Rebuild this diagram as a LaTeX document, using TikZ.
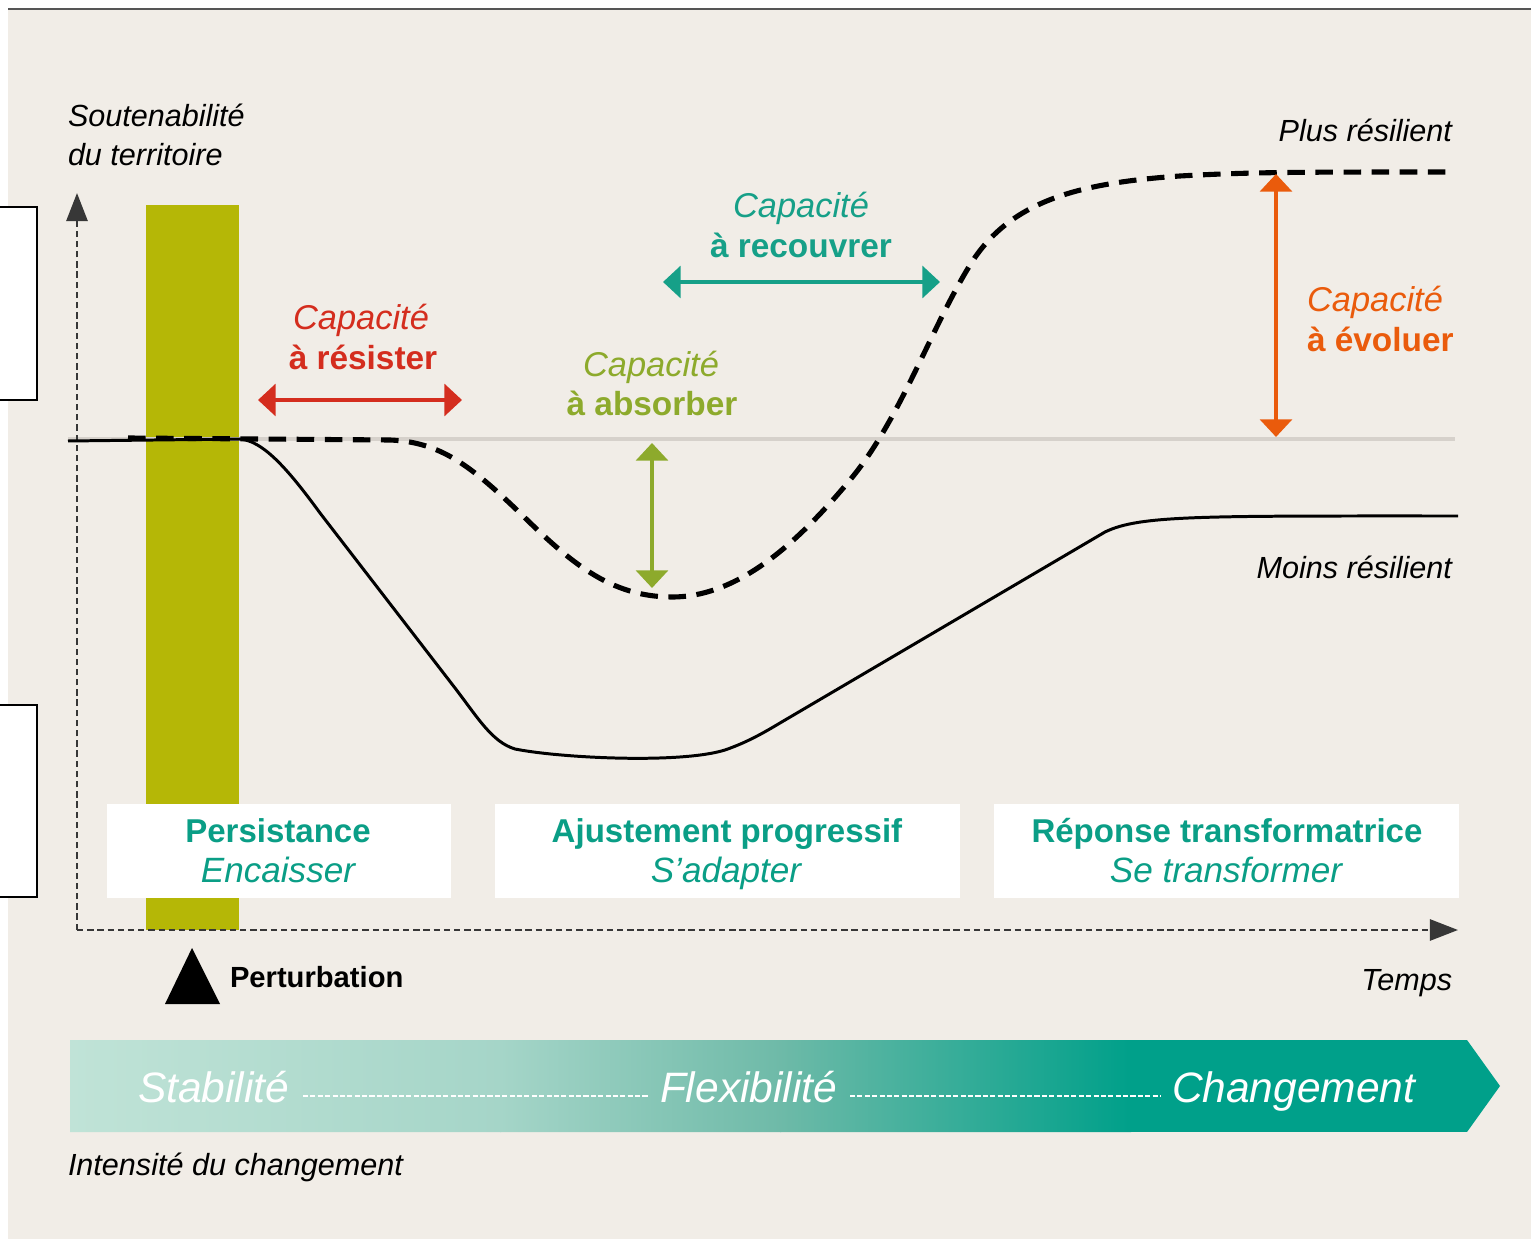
\documentclass[tikz,border=0pt]{standalone}
\usepackage{fontspec}
\setmainfont{Liberation Sans}
\usetikzlibrary{arrows.meta}
\definecolor{bgc}{RGB}{241,237,231}
\definecolor{topline}{RGB}{85,85,85}
\definecolor{barc}{RGB}{181,183,6}
\definecolor{basec}{RGB}{214,209,203}
\definecolor{axisc}{RGB}{55,55,55}
\definecolor{redc}{RGB}{212,45,30}
\definecolor{tealc}{RGB}{22,160,136}
\definecolor{olivec}{RGB}{141,170,44}
\definecolor{orangec}{RGB}{234,91,12}
\definecolor{phasec}{RGB}{10,158,134}
\definecolor{bannerL}{RGB}{192,227,215}
\definecolor{bannerM}{RGB}{165,213,200}
\definecolor{bannerN}{RGB}{110,186,168}
\definecolor{bannerR}{RGB}{0,160,138}
\tikzset{
  txt/.style={inner sep=0pt, outer sep=0pt},
  itfont/.style={font=\fontsize{19.6}{23}\selectfont\itshape},
  bdfont/.style={font=\fontsize{19}{23}\selectfont\bfseries},
  phbold/.style={font=\fontsize{18.8}{23}\selectfont\bfseries, text=phasec},
  phit/.style={font=\fontsize{20}{24}\selectfont\itshape, text=phasec},
  axlabel/.style={font=\fontsize{17.4}{21}\selectfont\itshape, text=black},
  bannerfont/.style={font=\fontsize{24.2}{28}\selectfont\itshape, text=white},
  caparrow/.style={line width=2.2pt, {Triangle[length=10pt,width=18pt]}-{Triangle[length=10pt,width=18pt]}},
  axisline/.style={draw=axisc, line width=1.5pt, dash pattern=on 3.6pt off 2.2pt, -{Triangle[length=16pt,width=12pt]}},
  solidcurve/.style={draw=black, line width=1.7pt},
  dashcurve/.style={draw=black, line width=2.9pt, dash pattern=on 10pt off 6pt},
  phasebox/.style={fill=white, draw=none},
  bannerdash/.style={draw=white, line width=1.1pt, dash pattern=on 2.9pt off 1.3pt}
}
\begin{document}
\begin{tikzpicture}[x=0.02cm,y=-0.02cm]
\useasboundingbox (0,0) rectangle (1531,1239);
% background
\fill[white] (0,0) rectangle (1531,1239);
\fill[bgc] (8,9) rectangle (1531,1239);
\draw[topline, line width=1.6pt] (8,9) -- (1531,9);
% left boxes
\draw[fill=white, line width=1.2pt] (-5,207) rectangle (37,400);
\draw[fill=white, line width=1.2pt] (-5,705) rectangle (37,897);
% perturbation bar
\fill[barc] (146,205) rectangle (239,930);
% baseline
\draw[basec, line width=1.8pt] (68,439) -- (1455,439);
% axes
\coordinate (O) at (77,930);
\coordinate (Ytop) at (77,193);
\coordinate (Xend) at (1458,930);
\draw[axisline] (O) -- (Ytop);
\draw[axisline] (O) -- (Xend);
% less resilient curve
\draw[solidcurve] (68,441) -- (240,439) .. controls (262,441) and (285,465) .. (320,513)
  -- (455,688) .. controls (478,718) and (492,742) .. (515,749)
  .. controls (560,758) and (680,764) .. (725,750)
  .. controls (745,743) and (760,735) .. (780,723)
  -- (1105,532) .. controls (1140,515) and (1200,516) .. (1458,516);
% more resilient curve
\draw[dashcurve] (128,438) -- (390,440) .. controls (440,442) and (470,465) .. (520,513)
  .. controls (570,562) and (610,597) .. (672,597)
  .. controls (740,597) and (800,540) .. (850,480)
  .. controls (900,420) and (930,330) .. (970,265)
  .. controls (1010,200) and (1080,183) .. (1180,176)
  .. controls (1250,172) and (1300,172) .. (1455,172);
% phase boxes
\fill[phasebox] (107,804) rectangle (451,898);
\fill[phasebox] (495,804) rectangle (960,898);
\fill[phasebox] (994,804) rectangle (1459,898);
\node[txt, phbold, anchor=base] (p1t) at (278,842) {Persistance};
\node[txt, phit, anchor=base] (p1s) at (278,882) {Encaisser};
\node[txt, phbold, anchor=base] (p2t) at (727,842) {Ajustement progressif};
\node[txt, phit, anchor=base] (p2s) at (726,882) {S'adapter};
\node[txt, phbold, anchor=base] (p3t) at (1227,842) {Réponse transformatrice};
\node[txt, phit, anchor=base] (p3s) at (1226,882) {Se transformer};
% capacity arrows
\coordinate (rA) at (258,400); \coordinate (rB) at (462,400);
\draw[caparrow, redc] (rA) -- (rB);
\coordinate (tA) at (663,282); \coordinate (tB) at (940,282);
\draw[caparrow, tealc] (tA) -- (tB);
\coordinate (oA) at (652,443); \coordinate (oB) at (652,588);
\draw[caparrow, olivec] (oA) -- (oB);
\coordinate (eA) at (1276,174); \coordinate (eB) at (1276,437);
\draw[caparrow, orangec] (eA) -- (eB);
% capacity labels
\node[txt, itfont, text=redc, anchor=base] (r1) at (361,330) {Capacité};
\node[txt, bdfont, text=redc, anchor=base] (r2) at (363,370) {à résister};
\node[txt, itfont, text=tealc, anchor=base] (t1) at (801,218) {Capacité};
\node[txt, bdfont, text=tealc, anchor=base] (t2) at (801,258) {à recouvrer};
\node[txt, itfont, text=olivec, anchor=base] (o1) at (651,377) {Capacité};
\node[txt, bdfont, text=olivec, anchor=base] (o2) at (652,416) {à absorber};
\node[txt, itfont, text=orangec, anchor=base west] (e1) at (1307,312) {Capacité};
\node[txt, bdfont, text=orangec, anchor=base west] (e2) at (1307,352) {à évoluer};
% axis labels
\node[txt, axlabel, anchor=base west] (ylab1) at (68,127) {Soutenabilité};
\node[txt, axlabel, anchor=base west] (ylab2) at (68,166) {du territoire};
\node[txt, axlabel, anchor=base east] (plus) at (1452,142) {Plus résilient};
\node[txt, axlabel, anchor=base east] (moins) at (1452,579) {Moins résilient};
\node[txt, axlabel, anchor=base east] (temps) at (1452,990) {Temps};
\node[txt, axlabel, anchor=base west] (intens) at (68,1175) {Intensité du changement};
% perturbation
\fill[black] (192,948) -- (220,1004) -- (165,1004) -- cycle;
\node[txt, font=\fontsize{16.6}{20}\selectfont\bfseries, anchor=base west] (pert) at (230,987) {Perturbation};
% banner
\begin{scope}
\clip (70,1040) -- (1467,1040) -- (1500,1086) -- (1467,1132) -- (70,1132) -- cycle;
\shade[left color=bannerL, right color=bannerM] (70,1040) rectangle (501,1132);
\shade[left color=bannerM, right color=bannerN] (500,1040) rectangle (781,1132);
\shade[left color=bannerN, right color=bannerR] (780,1040) rectangle (1131,1132);
\fill[bannerR] (1130,1040) rectangle (1505,1132);
\end{scope}
\node[txt, bannerfont, anchor=base west] (stab) at (138,1102) {Stabilité};
\node[txt, bannerfont, anchor=base west] (flex) at (660,1102) {Flexibilité};
\node[txt, bannerfont, anchor=base west] (chg) at (1172,1102) {Changement};
\draw[bannerdash] (303,1096) -- (648,1096);
\draw[bannerdash] (850,1096) -- (1160,1096);
\end{tikzpicture}
\end{document}
